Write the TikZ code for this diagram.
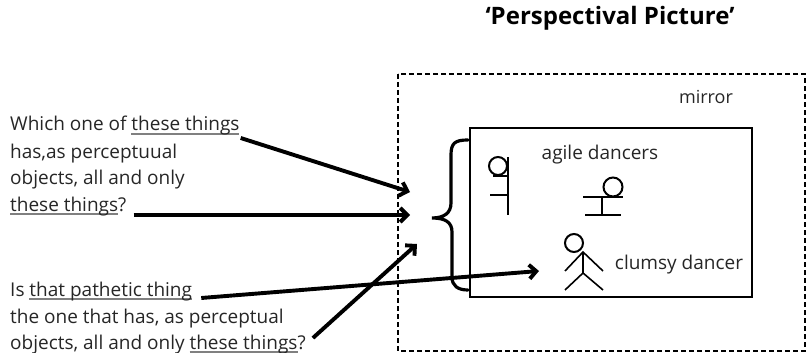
\documentclass[tikz,border=0pt]{standalone}
\usepackage{fontspec}
\setmainfont{Open Sans}
\usetikzlibrary{arrows.meta}
\definecolor{ulgray}{gray}{0.5}
\newsavebox\ulbox
% grey underline used for the demonstrative phrases
\newcommand\gul[1]{\sbox\ulbox{#1}\rlap{\color{ulgray}\rule[-4pt]{\wd\ulbox}{1.6pt}}\usebox\ulbox}
\begin{document}
\begin{tikzpicture}[x=1pt,y=-1pt,
  txt/.style={anchor=base west,inner sep=0pt,text=black!85,font=\fontsize{19}{22}\selectfont},
  lbl/.style={inner sep=0pt,text=black!85,font=\fontsize{19}{22}\selectfont},
  ptr/.style={line width=3.9pt,-{Straight Barb[length=7pt,width=14pt]}},
  stick/.style={line width=1.6pt},
  head/.style={line width=2pt}]
\useasboundingbox (0,0) rectangle (807,353);

% title
\node[inner sep=0pt,font=\fontsize{24}{28}\selectfont\bfseries] (title) at (610,18) {‘Perspectival Picture’};

% mirror frame and the picture inside it
\draw[line width=2pt,dash pattern=on 5pt off 3pt] (398,74) rectangle (805,351);
\node[lbl,anchor=base,font=\fontsize{18}{22}\selectfont] (mirror) at (706,103) {mirror};
\draw[line width=2pt] (470,128) rectangle (752,297);
\node[lbl,anchor=base] (agile) at (600,160) {agile dancers};
\node[lbl,anchor=base] (clumsy) at (679,269) {clumsy dancer};

% brace gathering the dancers
\draw[line width=3.2pt,line cap=round]
  (468,140) .. controls (455,140) and (451,143) .. (451,155) -- (451,203)
  .. controls (451,213) and (444,218) .. (432,218)
  .. controls (445,218) and (452,222) .. (452,232) -- (452,277)
  .. controls (452,286) and (458,290) .. (468,290);

% agile dancer, sideways
\draw[head] (498,166) circle (9pt);
\draw[stick] (508,157) -- (508,215);
\draw[stick] (490,195) -- (508,195);
\draw[stick] (493,176) -- (508,176);

% agile dancer, balancing
\draw[head] (613,187) circle (9.5pt);
\draw[stick] (583,197) -- (623,197);
\draw[stick] (602,197) -- (602,215);
\draw[stick] (585,215) -- (621,215);

% clumsy dancer
\draw[head] (574,243) circle (9pt);
\draw[stick] (583,252) -- (583,273);
\draw[stick] (565,271) -- (583,252) -- (603,271);
\draw[stick] (565,290) -- (583,273) -- (603,290);

% questions
\node[txt] (q1) at (10,131) {Which one of \gul{these things}};
\node[txt] (q2) at (10,158) {has,as perceptuual};
\node[txt] (q3) at (10,184) {objects, all and only};
\node[txt] (q4) at (10,211) {\gul{these things}?};

\node[txt] (p1) at (10,296) {Is \gul{that pathetic thing}};
\node[txt] (p2) at (10,323) {the one that has, as perceptual};
\node[txt] (p3) at (10,349) {objects, all and only \gul{these things}?};

% arrow targets
\coordinate (t1) at (410,192);
\coordinate (t2) at (410,215);
\coordinate (t3) at (417,244);
\coordinate (t4) at (539,271);

\draw[ptr] ([shift={(1pt,-7pt)}]q1.base east) -- (t1);
\draw[ptr] ([shift={(7pt,-4pt)}]q4.base east) -- (t2);
\draw[ptr] ([shift={(7pt,11pt)}]p3.base east) -- (t3);
\draw[ptr] ([shift={(9pt,-2pt)}]p1.base east) -- (t4);
\end{tikzpicture}
\end{document}
